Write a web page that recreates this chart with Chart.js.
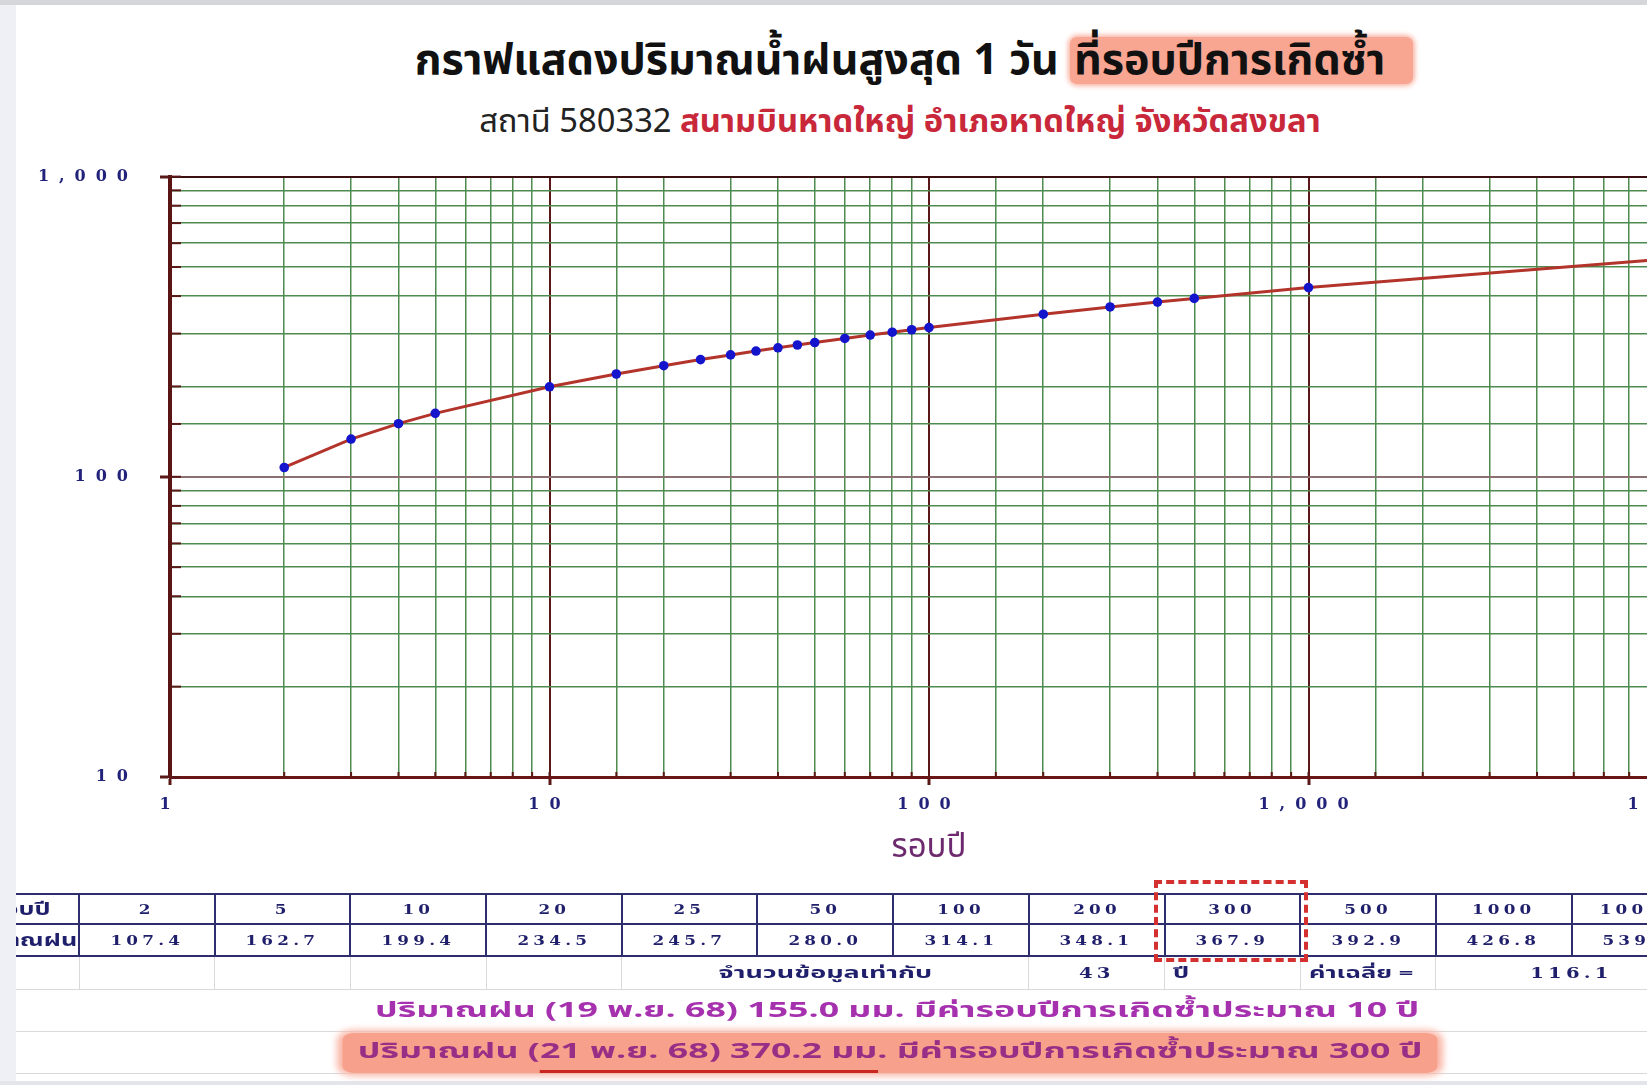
<!DOCTYPE html>
<html lang="th">
<head>
<meta charset="utf-8">
<title>กราฟแสดงปริมาณน้ำฝนสูงสุด 1 วัน ที่รอบปีการเกิดซ้ำ</title>
<script src="https://cdn.jsdelivr.net/npm/chart.js@4.4.1/dist/chart.umd.min.js"></script>
<style>
  html, body { margin: 0; padding: 0; }
  body { width: 1647px; height: 1085px; overflow: hidden; position: relative; background: #fff;
         font-family: "Noto Sans Thai", "Noto Sans", Tahoma, sans-serif; }
  #topbar { position: absolute; left: 0; top: 0; width: 1647px; height: 5px; background: #d5d6da; z-index: 6; }
  #leftbar { position: absolute; left: 0; top: 0; width: 16px; height: 1085px; background: #eef0f5; z-index: 5; }
  #bottombar { position: absolute; left: 0; top: 1081px; width: 1647px; height: 4px; background: #e4e5ea; z-index: 5; }
  #title { position: absolute; left: 14px; top: 37px; width: 1800px; text-align: center; font-size: 43px;
           font-weight: bold; color: #111; line-height: 48px; white-space: nowrap; }
  #title .hl { display: inline-block; background: #f8a592; border-radius: 7px; box-shadow: 0 0 5px 2px #f9b2a2;
               padding: 0 28px 0 4px; line-height: 47px; }
  #subtitle { position: absolute; left: 0; top: 102px; width: 1800px; text-align: center; font-size: 32.7px;
              color: #222; line-height: 40px; white-space: nowrap; }
  #subtitle b { color: #c8283a; }
  #chartBox { position: absolute; left: 0; top: 145px; width: 1760px; height: 725px; }
  #tableBox { position: absolute; left: 16px; top: 0; width: 1631px; height: 1085px; overflow: hidden; z-index: 3; }
  table { position: absolute; left: -56px; top: 893px; width: 1746px; border-collapse: collapse; table-layout: fixed; }
  td { padding: 0; text-align: center; white-space: nowrap; }
  .wide { display: inline-block; transform: scaleX(1.4); }
  .wl { display: inline-block; transform: scaleX(1.7); transform-origin: left center; }
  td.lab { color: #1f1f6b; font-weight: bold; font-size: 18px; }
  .num { display: inline-block; font-family: "DejaVu Serif", serif; font-weight: bold; font-size: 12px;
         letter-spacing: 3px; color: #1f1f6b; transform: scaleX(1.4); }
  tr.head td { border: 2px solid #2e2e6e; overflow: hidden; }
  tr.r1 td { height: 28px; }
  tr.r2 td { height: 30px; }
  tr.r3 td { height: 32px; border: 1px solid #dadada; color: #1f1f6b; overflow: hidden; }
  tr.r3 .th { font-weight: bold; font-size: 15px; }
  tr.r3 td.left { text-align: left; padding-left: 8px; }
  tr.r3 .num { font-size: 14px; }
  tr.note td { border-top: 1px solid #dadada; border-bottom: 1px solid #dadada; padding-left: 126px;
               font-weight: bold; font-size: 21px; height: 41px; }
  tr.n1 td { color: #a631ae; }
  tr.n2 td { color: #982e86; padding-left: 112px; }
  .note-txt { display: inline-block; transform: scaleX(1.7); }
  .hl2 { background: #f7a08c; border-radius: 7px; box-shadow: 0 0 6px 3px #f9b6a6; padding: 0 9px; line-height: 38px; }
  .ul { display: inline-block; line-height: 36px; border-bottom: 3px solid #c8261e; }
  #dash { position: absolute; left: 1154px; top: 880px; width: 146px; height: 74px; border: 4px dashed #d3302f; z-index: 7; }
</style>
</head>
<body>
<div id="topbar"></div>
<div id="leftbar"></div>
<div id="bottombar"></div>
<div id="title">กราฟแสดงปริมาณน้ำฝนสูงสุด 1 วัน <span class="hl">ที่รอบปีการเกิดซ้ำ</span></div>
<div id="subtitle">สถานี 580332 <b>สนามบินหาดใหญ่ อำเภอหาดใหญ่ จังหวัดสงขลา</b></div>
<div id="chartBox"><canvas id="chart-rain"></canvas></div>
<div id="tableBox">
  <table id="rain-table">
    <colgroup id="cols"><col style="width:118px"></colgroup>
    <tr class="head r1" id="row-years"><td class="lab"><span class="wide">รอบปี</span></td></tr>
    <tr class="head r2" id="row-rain"><td class="lab"><span class="wide">ปริมาณฝน</span></td></tr>
    <tr class="r3">
      <td></td><td></td><td></td><td></td><td></td>
      <td colspan="3" class="th"><span class="wide" style="transform:scaleX(1.8)">จำนวนข้อมูลเท่ากับ</span></td>
      <td><span class="num" id="n-years"></span></td>
      <td class="left th"><span class="wl">ปี</span></td>
      <td class="left th"><span class="wl">ค่าเฉลี่ย =</span></td>
      <td colspan="2"><span class="num" id="mean-rain"></span></td>
    </tr>
    <tr class="note n1"><td colspan="13"><span class="note-txt">ปริมาณฝน (19 พ.ย. 68) 155.0 มม. มีค่ารอบปีการเกิดซ้ำประมาณ 10 ปี</span></td></tr>
    <tr class="note n2"><td colspan="13"><span class="note-txt hl2">ปริมาณฝน (<span class="ul">21 พ.ย. 68) 370.2 มม</span>. มีค่ารอบปีการเกิดซ้ำประมาณ 300 ปี</span></td></tr>
  </table>
</div>
<div id="dash"></div>
<script>
// curve points (return period, 1-day max rainfall mm)
const returnPeriods = [2, 3, 4, 5, 10, 15, 20, 25, 30, 35, 40, 45, 50, 60, 70, 80, 90, 100, 200, 300, 400, 500, 1000, 10000];
const rainfall = [107.4, 133.6, 150.3, 162.7, 199.4, 220.0, 234.5, 245.7, 254.7, 262.4, 269.0, 274.8, 280.0, 289.0, 296.6, 303.1, 308.9, 314.1, 348.1, 367.9, 381.9, 392.9, 426.8, 539.2];

// table under the chart
const tableYears = ['2', '5', '10', '20', '25', '50', '100', '200', '300', '500', '1000', '10000'];
const tableRain = ['107.4', '162.7', '199.4', '234.5', '245.7', '280.0', '314.1', '348.1', '367.9', '392.9', '426.8', '539.2'];
const dataYears = '43';
const meanRain = '116.1';

const COL_W = 135.7;
const GREEN = '#4f8b4f';
const DECADE = '#5a1818';
const LABEL_COLOR = '#22227a';

function isDecade(v) {
  const l = Math.log10(v);
  return Math.abs(l - Math.round(l)) < 1e-9;
}

function fillRow(rowId, values) {
  const row = document.getElementById(rowId);
  values.forEach(v => {
    const td = document.createElement('td');
    const s = document.createElement('span');
    s.className = 'num';
    s.textContent = v;
    td.appendChild(s);
    row.appendChild(td);
  });
}
const colgroup = document.getElementById('cols');
tableYears.forEach(() => {
  const c = document.createElement('col');
  c.style.width = COL_W + 'px';
  colgroup.appendChild(c);
});
fillRow('row-years', tableYears);
fillRow('row-rain', tableRain);
document.getElementById('n-years').textContent = dataYears;
document.getElementById('mean-rain').textContent = meanRain;

// short dark ticks on the inside of both axes
const innerTicks = {
  id: 'innerTicks',
  beforeDatasetsDraw(chart) {
    const { ctx, chartArea, scales } = chart;
    ctx.save();
    ctx.strokeStyle = DECADE;
    ctx.lineWidth = 2;
    scales.y.ticks.forEach(t => {
      const py = scales.y.getPixelForValue(t.value);
      ctx.beginPath(); ctx.moveTo(chartArea.left, py); ctx.lineTo(chartArea.left + 11, py); ctx.stroke();
    });
    scales.x.ticks.forEach(t => {
      const px = scales.x.getPixelForValue(t.value);
      ctx.beginPath(); ctx.moveTo(px, chartArea.bottom); ctx.lineTo(px, chartArea.bottom - 5); ctx.stroke();
    });
    ctx.restore();
  }
};

// wide spaced digits on the tick labels (labels are drawn after datasets, ticks.z = 1)
const spacedLabels = {
  id: 'spacedLabels',
  afterDatasetsDraw(chart) { chart.ctx.letterSpacing = '10px'; },
  afterDraw(chart) { chart.ctx.letterSpacing = '0px'; }
};

const tickFont = { family: '"DejaVu Serif", serif', size: 16, weight: 'bold' };

const rainChart = new Chart(document.getElementById('chart-rain').getContext('2d'), {
  type: 'line',
  data: {
    datasets: [{
      data: returnPeriods.map((t, i) => ({ x: t, y: rainfall[i] })),
      borderColor: '#b3342b',
      borderWidth: 3,
      pointRadius: 4.8,
      pointBackgroundColor: '#1414cc',
      pointBorderWidth: 0,
      tension: 0
    }]
  },
  options: {
    responsive: true,
    maintainAspectRatio: false,
    animation: false,
    devicePixelRatio: 1,
    layout: { padding: { top: 15, right: 72, left: 0, bottom: 0 } },
    plugins: { legend: { display: false }, tooltip: { enabled: false } },
    scales: {
      x: {
        type: 'logarithmic',
        position: 'bottom',
        min: 1,
        max: 10000,
        grid: {
          color: c => isDecade(c.tick.value) ? DECADE : GREEN,
          lineWidth: c => isDecade(c.tick.value) ? 2 : 1.5,
          tickColor: c => isDecade(c.tick.value) ? DECADE : 'rgba(0,0,0,0)',
          tickLength: 8,
          tickWidth: 3
        },
        border: { color: '#6a1616', width: 3 },
        ticks: {
          z: 1,
          autoSkip: false,
          maxRotation: 0,
          padding: 10,
          color: LABEL_COLOR,
          font: tickFont,
          callback: v => isDecade(v) ? Number(v).toLocaleString('en-US') : ''
        },
        title: {
          display: true,
          text: 'รอบปี',
          color: '#6e2a6e',
          font: { family: '"Noto Sans Thai", Tahoma, sans-serif', size: 33 },
          padding: { top: 0, bottom: 0 }
        },
        afterFit: s => { s.height = 93; }
      },
      y: {
        type: 'logarithmic',
        min: 10,
        max: 1000,
        grid: {
          color: c => c.tick.value === 100 ? '#8a7070' : (c.tick.value === 1000 ? '#3c1010' : GREEN),
          lineWidth: c => isDecade(c.tick.value) ? 2 : 1.5,
          tickColor: c => isDecade(c.tick.value) ? DECADE : 'rgba(0,0,0,0)',
          tickLength: 10,
          tickWidth: 3
        },
        border: { color: '#5a1414', width: 4 },
        ticks: {
          z: 1,
          autoSkip: false,
          padding: 22,
          color: LABEL_COLOR,
          font: tickFont,
          callback: v => isDecade(v) ? Number(v).toLocaleString('en-US') : ''
        },
        afterFit: s => { s.width = 170; }
      }
    }
  },
  plugins: [innerTicks, spacedLabels]
});
</script>
</body>
</html>
